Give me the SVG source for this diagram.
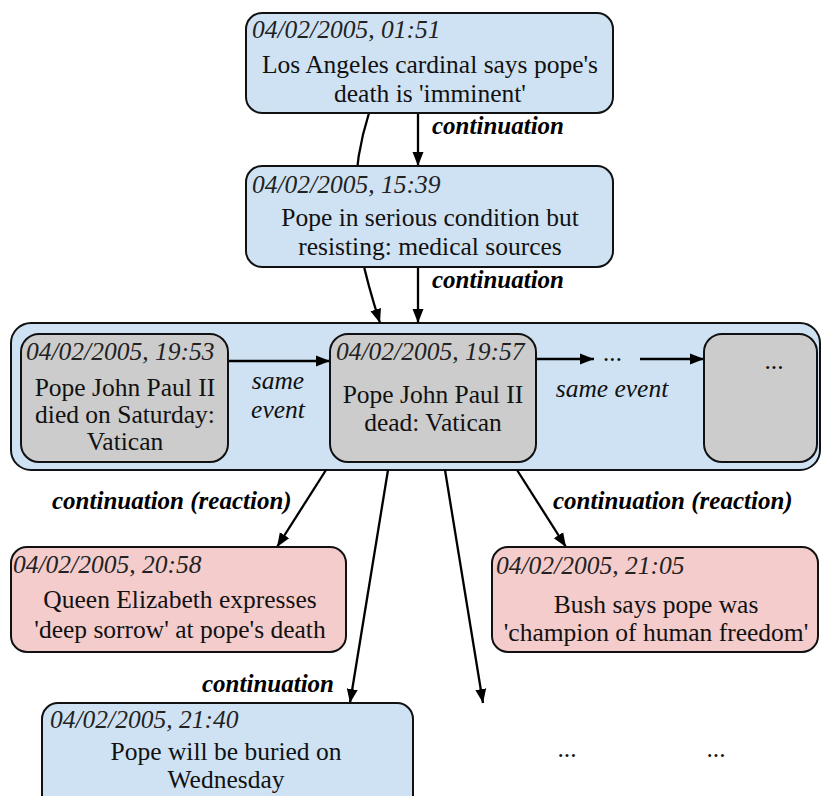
<svg xmlns="http://www.w3.org/2000/svg" width="822" height="796" viewBox="0 0 822 796">
<style>
  .box { stroke: #111; stroke-width: 2; }
  .blue { fill: #cfe2f3; }
  .pink { fill: #f4cccc; }
  .gray { fill: #cccccc; }
  .date { font-family: "Liberation Serif", "DejaVu Serif", "Times New Roman", serif; font-style: italic; font-size: 25.5px; fill: #222; }
  .txt { font-family: "Liberation Serif", "DejaVu Serif", "Times New Roman", serif; font-size: 25.5px; fill: #111; text-anchor: middle; }
  .lbl { font-family: "Liberation Serif", "DejaVu Serif", "Times New Roman", serif; font-style: italic; font-weight: bold; font-size: 25px; fill: #000; }
  .lbli { font-family: "Liberation Serif", "DejaVu Serif", "Times New Roman", serif; font-style: italic; font-size: 25.5px; fill: #111; text-anchor: middle; }
  .edge { fill: none; stroke: #000; stroke-width: 2.3; marker-end: url(#arr); }
</style>
<defs>
  <marker id="arr" markerUnits="userSpaceOnUse" markerWidth="15" markerHeight="12" refX="14" refY="6" orient="auto">
    <path d="M0,0.5 L14,6 L0,11.5 z" fill="#000"/>
  </marker>
</defs>

<g id="cluster">
  <rect class="box blue" x="11" y="323" width="809" height="147" rx="20"/>
</g>

<g id="connectors">
  <path class="edge" d="M418,113 L418,166"/>
  <path class="edge" d="M369,113 C343,195 358,255 380,323"/>
  <path class="edge" d="M418,267 L418,323"/>
  <path class="edge" d="M228,361 L330,361"/>
  <path class="edge" d="M536,359 L594,359"/>
  <path class="edge" d="M640,359 L704,359"/>
  <path class="edge" d="M326,470 L277,547"/>
  <path class="edge" d="M517,470 L566,547"/>
  <path class="edge" d="M388,470 L350,703"/>
  <path class="edge" d="M445,470 L483,703"/>
  <text class="lbl" x="432" y="134">continuation</text>
  <text class="lbl" x="432" y="288">continuation</text>
  <text class="lbli" x="278" y="389">same</text>
  <text class="lbli" x="278" y="418">event</text>
  <text class="lbli" x="612" y="397">same event</text>
  <text class="lbli" x="613" y="361">...</text>
  <text class="lbl" x="52" y="509">continuation (reaction)</text>
  <text class="lbl" x="553" y="509">continuation (reaction)</text>
  <text class="lbl" x="202" y="692">continuation</text>
</g>

<g id="n1">
  <rect class="box blue" x="246" y="13" width="367" height="100" rx="16"/>
  <text class="date" x="252" y="38">04/02/2005, 01:51</text>
  <text class="txt" x="430" y="73">Los Angeles cardinal says pope's</text>
  <text class="txt" x="430" y="102">death is 'imminent'</text>
</g>

<g id="n2">
  <rect class="box blue" x="246" y="166" width="367" height="101" rx="16"/>
  <text class="date" x="252" y="193">04/02/2005, 15:39</text>
  <text class="txt" x="430" y="226">Pope in serious condition but</text>
  <text class="txt" x="430" y="255">resisting: medical sources</text>
</g>

<g id="n3">
  <rect class="box gray" x="21" y="334" width="207" height="128" rx="18"/>
  <text class="date" x="26" y="360">04/02/2005, 19:53</text>
  <text class="txt" x="125" y="396">Pope John Paul II</text>
  <text class="txt" x="125" y="423">died on Saturday:</text>
  <text class="txt" x="125" y="450">Vatican</text>
</g>

<g id="n4">
  <rect class="box gray" x="330" y="334" width="206" height="128" rx="18"/>
  <text class="date" x="336" y="360">04/02/2005, 19:57</text>
  <text class="txt" x="433" y="403">Pope John Paul II</text>
  <text class="txt" x="433" y="431">dead: Vatican</text>
</g>

<g id="n5">
  <rect class="box gray" x="704" y="334" width="113" height="128" rx="18"/>
  <text class="txt" x="774" y="369">...</text>
</g>

<g id="n6">
  <rect class="box pink" x="11" y="547" width="335" height="105" rx="16"/>
  <text class="date" x="13" y="573">04/02/2005, 20:58</text>
  <text class="txt" x="180" y="608">Queen Elizabeth expresses</text>
  <text class="txt" x="180" y="638">'deep sorrow' at pope's death</text>
</g>

<g id="n7">
  <rect class="box pink" x="492" y="547" width="326" height="105" rx="16"/>
  <text class="date" x="496" y="574">04/02/2005, 21:05</text>
  <text class="txt" x="656" y="613">Bush says pope was</text>
  <text class="txt" x="656" y="641">'champion of human freedom'</text>
</g>

<g id="n8">
  <rect class="box blue" x="42" y="703" width="371" height="110" rx="16"/>
  <text class="date" x="50" y="728">04/02/2005, 21:40</text>
  <text class="txt" x="226" y="760">Pope will be buried on</text>
  <text class="txt" x="226" y="788">Wednesday</text>
</g>

<g id="n9">
  <text class="txt" x="567" y="757">...</text>
</g>
<g id="n10">
  <text class="txt" x="716" y="757">...</text>
</g>
</svg>
